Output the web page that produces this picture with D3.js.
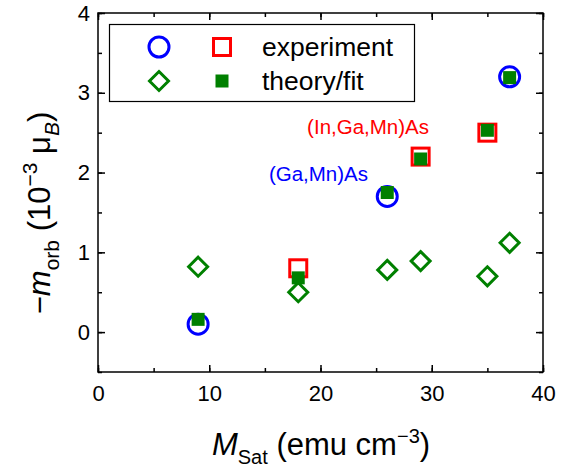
<!DOCTYPE html>
<html>
<head>
<meta charset="utf-8">
<script src="https://cdn.jsdelivr.net/npm/d3@7"></script>
<style>
  body { margin: 0; background: #fff; }
  svg { font-family: "Liberation Sans", Arial, sans-serif; }
</style>
</head>
<body>
<svg id="vis" width="577" height="468"></svg>
<script>
// data
var ticksX = [0, 10, 20, 30, 40];
var ticksY = [0, 1, 2, 3, 4];

// experiment
var gaMnX = [9, 26, 37];
var gaMnExp = [0.1, 1.7, 3.2];
var inGaMnX = [18, 29, 35];
var inGaMnExp = [0.8, 2.2, 2.5];

// theory / fit
var fitX = [9, 18, 26, 29, 35, 37];
var fitVals = [0.16, 0.68, 1.75, 2.17, 2.53, 3.19];
var theoryVals = [0.82, 0.5, 0.78, 0.89, 0.7, 1.12];

var BLUE = "#0000ff", RED = "#ff0000", GREEN = "#008000";

var margin = {left: 98, right: 34, top: 13, bottom: 96};
var W = 577, H = 468;

var _vis = d3.select("#vis");

var x = d3.scaleLinear().domain([0, 40]).range([margin.left, W - margin.right]);
var y = d3.scaleLinear().domain([-0.5, 4]).range([H - margin.bottom, margin.top]);

var x0 = x.range()[0], x1 = x.range()[1];
var y0 = y.range()[0], y1 = y.range()[1];

// ticks, inward on all four sides
function drawAxes() {
    var g = _vis.append("g").attr("class", "axes");
    var xMinor = d3.range(0, 41, 5), yMinor = d3.range(-0.5, 4.01, 0.5);

    g.append("g").attr("transform", "translate(0," + y0 + ")")
        .call(d3.axisBottom(x).tickValues(xMinor).tickSizeInner(-4).tickSizeOuter(0).tickFormat(""));
    g.append("g").attr("transform", "translate(0," + y0 + ")")
        .call(d3.axisBottom(x).tickValues(ticksX).tickSizeInner(-7).tickSizeOuter(0).tickPadding(13).tickFormat(d3.format("d")));
    g.append("g").attr("transform", "translate(0," + y1 + ")")
        .call(d3.axisTop(x).tickValues(xMinor).tickSizeInner(-4).tickSizeOuter(0).tickFormat(""));
    g.append("g").attr("transform", "translate(0," + y1 + ")")
        .call(d3.axisTop(x).tickValues(ticksX).tickSizeInner(-7).tickSizeOuter(0).tickFormat(""));

    g.append("g").attr("transform", "translate(" + x0 + ",0)")
        .call(d3.axisLeft(y).tickValues(yMinor).tickSizeInner(-4).tickSizeOuter(0).tickFormat(""));
    g.append("g").attr("transform", "translate(" + x0 + ",0)")
        .call(d3.axisLeft(y).tickValues(ticksY).tickSizeInner(-7).tickSizeOuter(0).tickPadding(8).tickFormat(d3.format("d")));
    g.append("g").attr("transform", "translate(" + x1 + ",0)")
        .call(d3.axisRight(y).tickValues(yMinor).tickSizeInner(-4).tickSizeOuter(0).tickFormat(""));
    g.append("g").attr("transform", "translate(" + x1 + ",0)")
        .call(d3.axisRight(y).tickValues(ticksY).tickSizeInner(-7).tickSizeOuter(0).tickFormat(""));

    g.selectAll(".domain").remove();
    g.selectAll("line").attr("stroke", "#000").attr("stroke-width", 1.5);
    g.selectAll("text").attr("font-size", 22).attr("fill", "#000")
        .attr("font-family", "Liberation Sans, Arial, sans-serif");

    // frame
    _vis.append("rect")
        .attr("x", x0).attr("y", y1)
        .attr("width", x1 - x0).attr("height", y0 - y1)
        .attr("fill", "none").attr("stroke", "#000").attr("stroke-width", 1.5);
}

function circle(g, cx, cy, color) {
    g.append("circle").attr("cx", cx).attr("cy", cy).attr("r", 10)
        .attr("fill", "none").attr("stroke", color).attr("stroke-width", 3);
}
function openSquare(g, cx, cy, color) {
    g.append("rect").attr("x", cx - 8.5).attr("y", cy - 8.5).attr("width", 17).attr("height", 17)
        .attr("fill", "none").attr("stroke", color).attr("stroke-width", 3);
}
function filledSquare(g, cx, cy, color) {
    g.append("rect").attr("x", cx - 6.5).attr("y", cy - 6.5).attr("width", 13).attr("height", 13)
        .attr("fill", color);
}
function diamond(g, cx, cy, color) {
    var r = 9.5;
    g.append("path")
        .attr("d", "M" + cx + "," + (cy - r) + "L" + (cx + r) + "," + cy + "L" + cx + "," + (cy + r) + "L" + (cx - r) + "," + cy + "Z")
        .attr("fill", "none").attr("stroke", color).attr("stroke-width", 3);
}

function drawPoints() {
    var g = _vis.append("g").attr("class", "points");
    gaMnX.forEach(function(d, i) { circle(g, x(d), y(gaMnExp[i]), BLUE); });
    inGaMnX.forEach(function(d, i) { openSquare(g, x(d), y(inGaMnExp[i]), RED); });
    fitX.forEach(function(d, i) { diamond(g, x(d), y(theoryVals[i]), GREEN); });
    fitX.forEach(function(d, i) { filledSquare(g, x(d), y(fitVals[i]), GREEN); });

    g.append("text").attr("x", 429).attr("y", 134).attr("text-anchor", "end")
        .attr("font-size", 20.5).attr("fill", RED).text("(In,Ga,Mn)As");
    g.append("text").attr("x", 368).attr("y", 181).attr("text-anchor", "end")
        .attr("font-size", 20.5).attr("fill", BLUE).text("(Ga,Mn)As");
}

function drawLegend() {
    var g = _vis.append("g").attr("class", "legend");
    g.append("rect").attr("x", 109.5).attr("y", 24.5).attr("width", 305).attr("height", 77)
        .attr("fill", "#fff").attr("stroke", "#000").attr("stroke-width", 1.2);
    circle(g, 159, 47, BLUE);
    openSquare(g, 222, 47, RED);
    diamond(g, 159, 81, GREEN);
    filledSquare(g, 222, 81, GREEN);
    g.append("text").attr("x", 262).attr("y", 56).attr("font-size", 26.5).text("experiment");
    g.append("text").attr("x", 262).attr("y", 90).attr("font-size", 26.5).text("theory/fit");
}

function drawTitles() {
    var tx = _vis.append("text").attr("x", 321).attr("y", 455)
        .attr("text-anchor", "middle").attr("font-size", 31);
    tx.append("tspan").attr("font-style", "italic").text("M");
    tx.append("tspan").attr("font-size", 20).attr("dy", 9).text("Sat");
    tx.append("tspan").attr("dy", -9).text(" (emu cm");
    tx.append("tspan").attr("font-size", 20).attr("dy", -12).text("\u22123");
    tx.append("tspan").attr("dy", 12).text(")");

    var ty = _vis.append("text").attr("transform", "translate(50,213) rotate(-90)")
        .attr("text-anchor", "middle").attr("font-size", 31);
    ty.append("tspan").text("\u2212");
    ty.append("tspan").attr("font-style", "italic").text("m");
    ty.append("tspan").attr("font-size", 21).attr("dy", 9).text("orb");
    ty.append("tspan").attr("dy", -9).text(" (10");
    ty.append("tspan").attr("font-size", 21).attr("dy", -13).text("\u22123");
    ty.append("tspan").attr("dy", 13).text(" \u03bc");
    ty.append("tspan").attr("font-size", 21).attr("font-style", "italic").attr("dy", 9).text("B");
    ty.append("tspan").attr("dy", -9).text(")");
}

drawAxes();
drawPoints();
drawLegend();
drawTitles();
</script>
</body>
</html>
